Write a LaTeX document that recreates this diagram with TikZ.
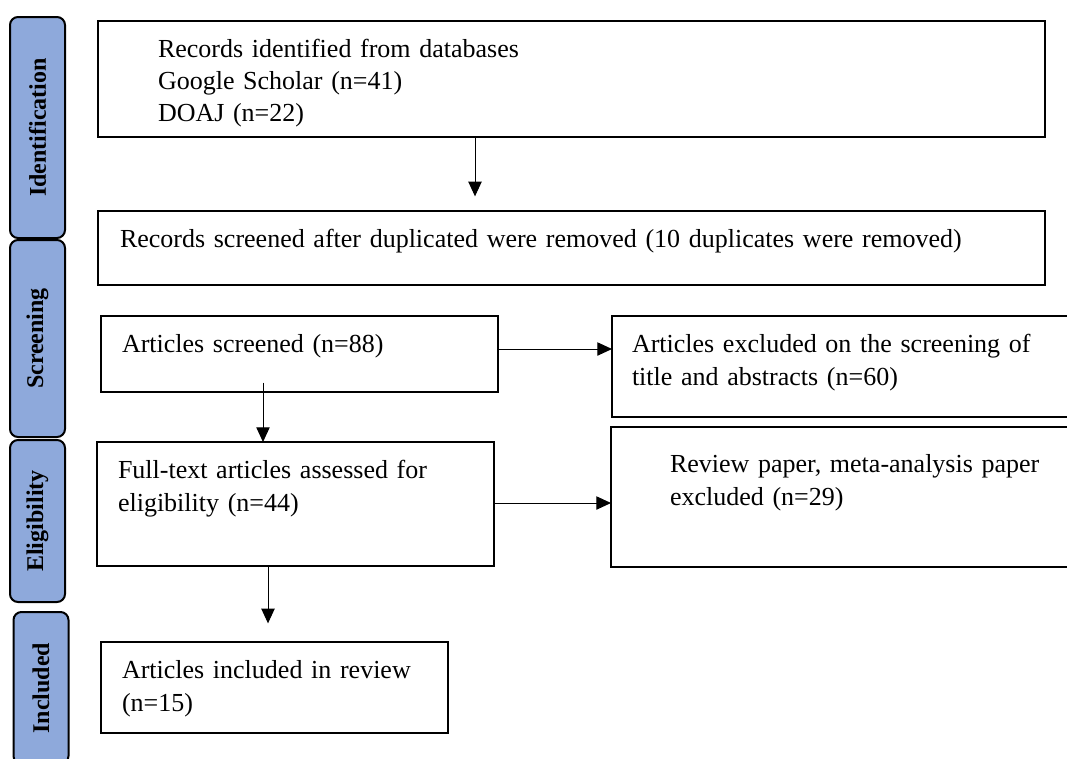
\documentclass[tikz,border=0pt]{standalone}
\usepackage{fontspec}
\setmainfont{Liberation Serif}
\usetikzlibrary{arrows.meta}
\definecolor{phase}{HTML}{8EA9DB}
\tikzset{
  stage/.style={draw=black, line width=1.5pt, anchor=north west, align=left, outer sep=0pt,
    inner ysep=14pt, text height=13pt, font=\fontsize{19.5pt}{25pt}\selectfont},
  phasebar/.style={draw=black, fill=phase, line width=1.5pt, rounded corners=6pt, rotate=90,
    minimum height=41.25pt, inner sep=0pt, font=\fontsize{18pt}{22pt}\selectfont\bfseries},
  flow/.style={draw=black, line width=0.75pt, -{Triangle[length=11pt,width=10pt]}}
}
\begin{document}
\begin{tikzpicture}[x=0.75pt, y=-0.75pt]
  \useasboundingbox (0,0) rectangle (1067,758);
  \clip (0,0) rectangle (1067,758);
  \node[phasebar, minimum width=165.75pt] (idn) at (37.5,127.5) {Identification};
  \node[phasebar, minimum width=147.75pt] (scn) at (37.5,338.5) {Screening};
  \node[phasebar, minimum width=121.5pt] (elg) at (37.5,521) {Eligibility};
  \node[phasebar, minimum width=114pt] (inb) at (41,688) {Included};
  \node[stage, inner xsep=45pt, text width=620pt, text depth=46pt, font=\fontsize{19.5pt}{24pt}\selectfont] (rec) at (98,21)
    {Records identified from databases\\Google Scholar (n=41)\\DOAJ (n=22)};
  \node[stage, inner xsep=16.5pt, text width=677pt, text depth=14.5pt] (dup) at (98,211)
    {Records screened after duplicated were removed (10 duplicates were removed)};
  \node[stage, inner xsep=15.75pt, text width=266pt, text depth=16pt] (scr) at (101,316)
    {Articles screened (n=88)};
  \node[stage, inner xsep=15pt, text width=351pt, text depth=34.75pt] (exa) at (612,316)
    {Articles excluded on the screening of\\title and abstracts (n=60)};
  \node[stage, inner xsep=15.75pt, text width=266pt, text depth=52pt] (full) at (97,442)
    {Full-text articles assessed for\\eligibility (n=44)};
  \node[stage, inner xsep=44.25pt, text width=293pt, text height=19.75pt, text depth=57.25pt] (exb) at (611,427)
    {Review paper, meta-analysis paper\\excluded (n=29)};
  \node[stage, inner xsep=15.75pt, text width=228.75pt, text depth=27.25pt] (inc) at (101,642)
    {Articles included in review\\(n=15)};
  \coordinate (ax) at (475,0);
  \coordinate (ay) at (0,349);
  \coordinate (bx) at (263,0);
  \coordinate (by) at (0,503);
  \coordinate (cx) at (268,0);
  \draw[flow, shorten >=11pt] (ax |- rec.south) -- (ax |- dup.north);
  \draw[flow] (scr.east |- ay) -- (exa.west |- ay);
  \draw[flow, shorten <=-7pt] (bx |- scr.south) -- (bx |- full.north);
  \draw[flow] (full.east |- by) -- (exb.west |- by);
  \draw[flow, shorten >=14pt] (cx |- full.south) -- (cx |- inc.north);
\end{tikzpicture}
\end{document}
